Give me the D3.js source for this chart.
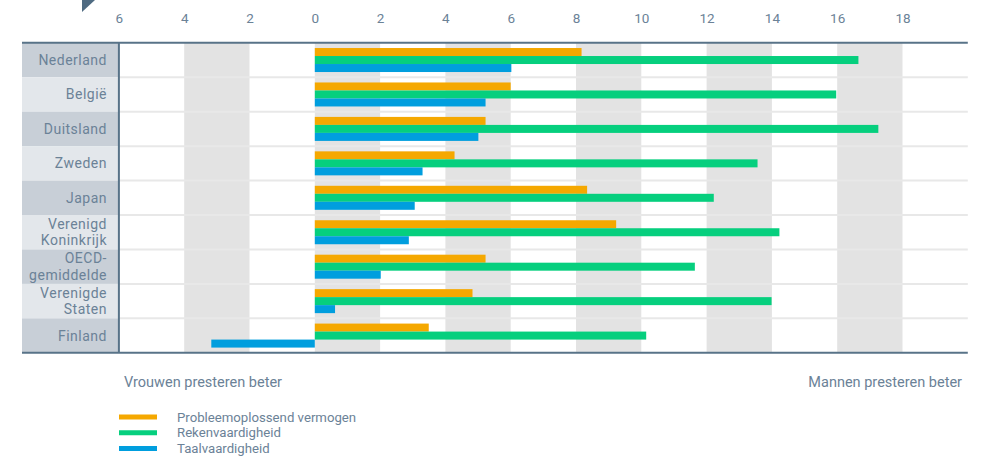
<!DOCTYPE html>
<html><head><meta charset="utf-8">
<script src="https://cdn.jsdelivr.net/npm/d3@7"></script>
<style>
html,body{margin:0;padding:0;background:#fff;}
svg{display:block;font-family:Roboto,"DejaVu Sans",sans-serif;}
</style></head>
<body><svg id="chart" width="984" height="457"></svg>
<script>
const countries = [["Nederland"],["België"],["Duitsland"],["Zweden"],["Japan"],["Verenigd","Koninkrijk"],["OECD-","gemiddelde"],["Verenigde","Staten"],["Finland"]];
const seriesNames = ["Probleemoplossend vermogen","Rekenvaardigheid","Taalvaardigheid"];
const problemSolving = [8.17, 6.0, 5.23, 4.28, 8.34, 9.23, 5.23, 4.83, 3.49];
const numeracy = [16.65, 15.97, 17.26, 13.56, 12.22, 14.23, 11.64, 13.99, 10.15];
const literacy = [6.02, 5.23, 5.01, 3.30, 3.06, 2.88, 2.02, 0.62, -3.17];
const tickValues = [-6,-4,-2,0,2,4,6,8,10,12,14,16,18];
const bandRanges = [[-4,-2],[0,2],[4,6],[8,10],[12,14],[16,18]];
const colors = ["#f5a800","#06cf7e","#009ede"];
const series = [problemSolving, numeracy, literacy];

const svg = d3.select("#chart");
const txt = "#6b8297";
const axisCol = "#587388";
const x = d3.scaleLinear().domain([-6,20]).range([118.9, 967.8]);
const labelLeft = 22;
const rowKeys = countries.map(c=>c.join(" "));
const y = d3.scaleBand().domain(rowKeys).range([42.8, 352.8]);
const barH = 8;

// label boxes
svg.selectAll("rect.lab").data(rowKeys).join("rect")
  .attr("x", labelLeft).attr("y", d=>y(d)).attr("width", x(-6)-labelLeft).attr("height", y.bandwidth())
  .attr("fill", (d,i)=> i%2===0 ? "#c8cfd7" : "#e3e7eb");

// gray bands
svg.selectAll("rect.band").data(bandRanges).join("rect")
  .attr("x", d=>x(d[0])).attr("width", d=>x(d[1])-x(d[0]))
  .attr("y", y.range()[0]).attr("height", y.range()[1]-y.range()[0])
  .attr("fill", "#e3e3e3");

// row separators
svg.selectAll("line.sep").data(rowKeys.slice(1)).join("line")
  .attr("x1", x(-6)).attr("x2", x(20)).attr("y1", d=>y(d)).attr("y2", d=>y(d))
  .attr("stroke", "#e8e8e8").attr("stroke-width", 2);

// bars
series.forEach((vals, si) => {
  svg.append("g").selectAll("rect").data(vals).join("rect")
    .attr("x", v => x(Math.min(0, v)))
    .attr("width", v => Math.abs(x(v) - x(0)))
    .attr("y", (v,i) => y(rowKeys[i]) + y.bandwidth()/2 - 1.5*barH + si*barH)
    .attr("height", barH)
    .attr("fill", colors[si]);
});

// axis lines
svg.append("line").attr("x1", labelLeft).attr("x2", x(20)).attr("y1", y.range()[0]).attr("y2", y.range()[0])
  .attr("stroke", axisCol).attr("stroke-width", 2);
svg.append("line").attr("x1", labelLeft).attr("x2", x(20)).attr("y1", y.range()[1]).attr("y2", y.range()[1])
  .attr("stroke", axisCol).attr("stroke-width", 2);
svg.append("line").attr("x1", x(-6)).attr("x2", x(-6)).attr("y1", y.range()[0]).attr("y2", y.range()[1])
  .attr("stroke", axisCol).attr("stroke-width", 2);

// top axis tick labels
const ax = svg.append("g").attr("transform", "translate(0,26)")
  .call(d3.axisTop(x).tickValues(tickValues).tickSize(0).tickFormat(d=>Math.abs(d)));
ax.select(".domain").remove();
ax.selectAll("text").attr("fill", txt).attr("font-size", 13.5).attr("font-family", "Roboto, sans-serif");

// triangle decoration
svg.append("path").attr("d", "M82,0 L95,0 L82,12 Z").attr("fill", "#4f6b82");

// row labels
svg.selectAll("text.rl").data(countries).join("text")
  .attr("x", 107)
  .attr("y", (d,i) => y(rowKeys[i]) + y.bandwidth()/2)
  .attr("text-anchor", "end").attr("font-size", 14).attr("letter-spacing", 0.5).attr("fill", txt)
  .each(function(d){
    const t = d3.select(this);
    const lh = 16.5;
    d.forEach((line, k) => {
      t.append("tspan").attr("x", 107)
        .attr("dy", k===0 ? ((-(d.length-1)/2)*lh + 5) : lh)
        .text(line);
    });
  });

// bottom labels
svg.append("text").attr("x", 124).attr("y", 387).attr("font-size", 14.5).attr("fill", txt).text("Vrouwen presteren beter");
svg.append("text").attr("x", 962).attr("y", 387).attr("text-anchor", "end").attr("font-size", 14.5).attr("fill", txt).text("Mannen presteren beter");

// legend
const lg = svg.append("g");
seriesNames.forEach((n, i) => {
  const yy = 417 + i*15.7;
  lg.append("line").attr("x1", 119).attr("x2", 157).attr("y1", yy).attr("y2", yy)
    .attr("stroke", colors[i]).attr("stroke-width", 5);
  lg.append("text").attr("x", 177).attr("y", yy + 4.5).attr("font-size", 13.2).attr("fill", txt).text(n);
});
</script></body></html>
